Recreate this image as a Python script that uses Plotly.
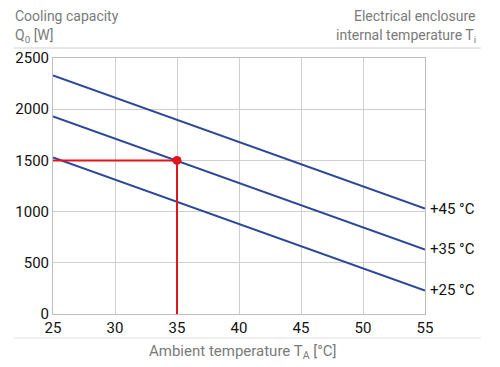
import plotly.graph_objects as go

# Data
ambient = [25, 55]
line_labels = ["+45 °C", "+35 °C", "+25 °C"]
capacity_45 = [2330, 1030]
capacity_35 = [1930, 630]
capacity_25 = [1530, 230]
op_point_x = 35
op_point_y = 1500
x_ticks = [25, 30, 35, 40, 45, 50, 55]
y_ticks = [0, 500, 1000, 1500, 2000, 2500]

BLUE = "#2b4797"
RED = "#e3141c"
GRAY = "#7a7a7a"
FONT = "Roboto, sans-serif"

fig = go.Figure()
for vals in (capacity_45, capacity_35, capacity_25):
    fig.add_trace(go.Scatter(x=ambient, y=vals, mode="lines",
                             line=dict(color=BLUE, width=2), hoverinfo="skip"))

# operating point lines
fig.add_trace(go.Scatter(x=[ambient[0], op_point_x], y=[op_point_y, op_point_y], mode="lines",
                         line=dict(color=RED, width=2), hoverinfo="skip"))
fig.add_trace(go.Scatter(x=[op_point_x, op_point_x], y=[op_point_y, 0], mode="lines",
                         line=dict(color=RED, width=2), hoverinfo="skip"))
fig.add_trace(go.Scatter(x=[op_point_x], y=[op_point_y], mode="markers",
                         marker=dict(color=RED, size=9), hoverinfo="skip"))

for lab, vals in zip(line_labels, (capacity_45, capacity_35, capacity_25)):
    fig.add_annotation(x=ambient[1], y=vals[1], xref="x", yref="y", text=lab,
                       showarrow=False, xanchor="left", yanchor="middle", xshift=3,
                       font=dict(family=FONT, size=15, color="#111"))

# header / footer texts
fig.add_annotation(x=-0.108, y=1.164, xref="paper", yref="paper", text="Cooling capacity",
                   showarrow=False, xanchor="left", yanchor="middle",
                   font=dict(family=FONT, size=14, color=GRAY))
fig.add_annotation(x=-0.108, y=1.086, xref="paper", yref="paper", text="Q<sub>0</sub> [W]",
                   showarrow=False, xanchor="left", yanchor="middle",
                   font=dict(family=FONT, size=14, color=GRAY))
fig.add_annotation(x=1.143, y=1.164, xref="paper", yref="paper", text="Electrical enclosure",
                   showarrow=False, xanchor="right", yanchor="middle",
                   font=dict(family=FONT, size=14, color=GRAY))
fig.add_annotation(x=1.143, y=1.086, xref="paper", yref="paper", text="internal temperature T<sub>i</sub>",
                   showarrow=False, xanchor="right", yanchor="middle",
                   font=dict(family=FONT, size=14, color=GRAY))
fig.add_annotation(x=0.51, y=-0.15, xref="paper", yref="paper", text="Ambient temperature T<sub>A</sub> [°C]",
                   showarrow=False, xanchor="center", yanchor="middle",
                   font=dict(family=FONT, size=15, color=GRAY))

fig.add_shape(type="line", xref="paper", yref="paper", x0=-0.105, x1=1.15, y0=1.039, y1=1.039,
              line=dict(color="#d0d0d0", width=1))
fig.add_shape(type="line", xref="paper", yref="paper", x0=-0.105, x1=1.15, y0=-0.094, y1=-0.094,
              line=dict(color="#e0e0e0", width=1))

fig.update_xaxes(range=[25, 55], tickvals=x_ticks, showgrid=True, gridcolor="#cfcfcf",
                 showline=True, linecolor="#bdbdbd", mirror=True, zeroline=False,
                 ticks="", tickfont=dict(family=FONT, size=15, color="#111"))
fig.update_yaxes(range=[0, 2500], tickvals=y_ticks, showgrid=True, gridcolor="#cfcfcf",
                 showline=True, linecolor="#bdbdbd", mirror=True, zeroline=False,
                 ticks="", tickfont=dict(family=FONT, size=15, color="#111"))

fig.update_layout(width=500, height=367, showlegend=False,
                  margin=dict(l=53, r=75, t=58, b=53),
                  plot_bgcolor="white", paper_bgcolor="white")

fig.write_html("out.html", config={"displayModeBar": False},
               post_script="document.body.style.margin='0';document.body.style.overflow='hidden';")
